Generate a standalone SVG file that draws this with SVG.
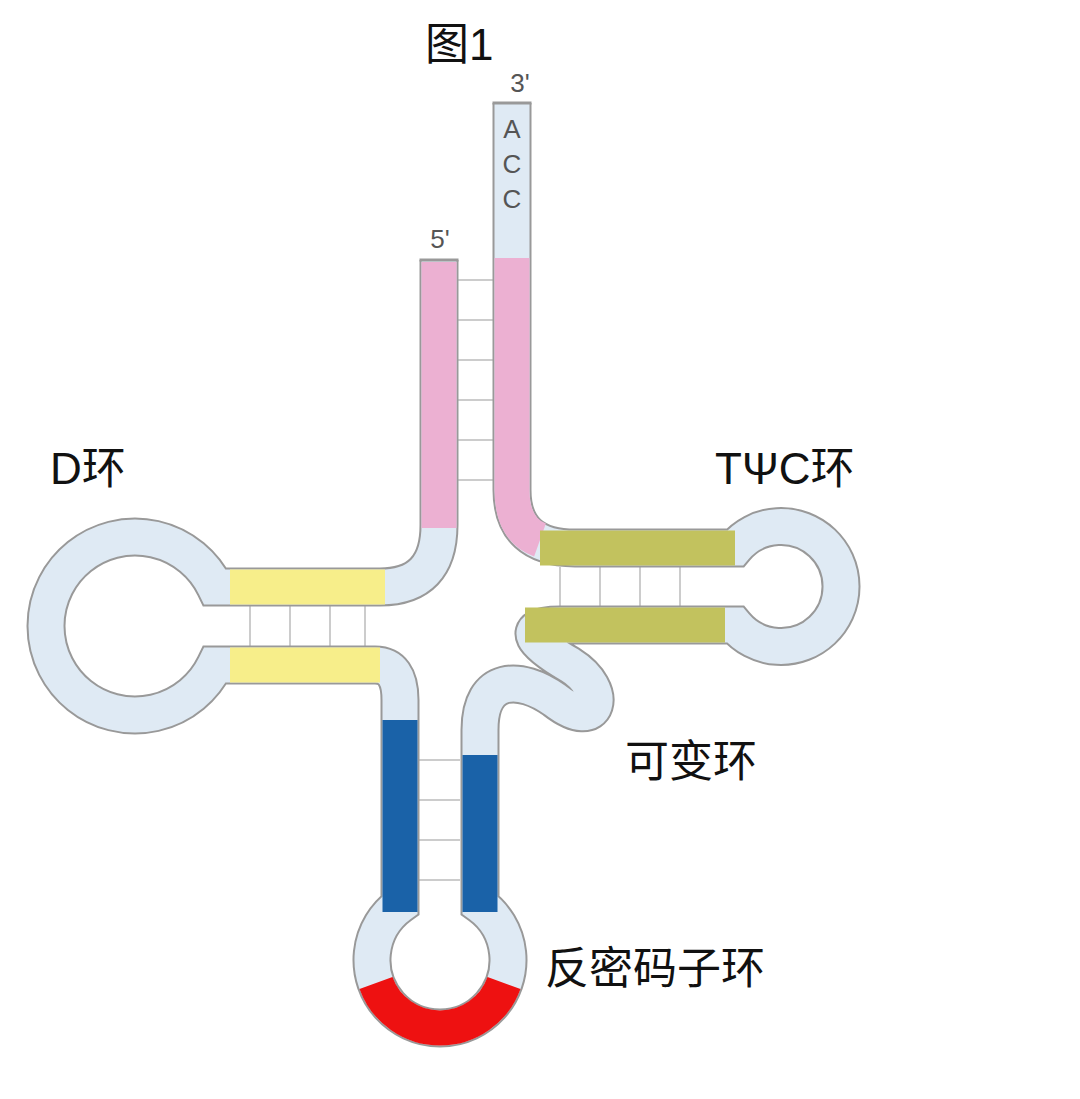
<svg xmlns="http://www.w3.org/2000/svg" width="1080" height="1099" viewBox="0 0 1080 1099">
<style>
.lab{font-family:"Liberation Sans","Noto Sans CJK SC",sans-serif;fill:#111;font-size:44px}
.sm{font-family:"Liberation Sans",sans-serif;fill:#555;font-size:26px;text-anchor:middle}
.seg{fill:none;stroke-width:35;stroke-linecap:butt}
.rung{stroke:#ccc;stroke-width:2}
</style>
<rect width="1080" height="1099" fill="#fff"/>
<defs>
<path id="bb" d="M439,260 L439,525 Q439,587 380,587 L215,587 A89,89 0 1 0 215,665 L375,665 Q400,665 400,700 L400,905 A68,68 0 1 0 480,905 L480,730 C480,675 520,675 555,700 C600,735 610,690 570,665 C535,645 515,625 560,625 L735,625 A60,60 0 1 0 735,548 L575,548 Q512,548 512,490 L512,103"/>
</defs>
<g id="rungs">
<line class="rung" x1="458" y1="280" x2="494" y2="280"/><line class="rung" x1="458" y1="320" x2="494" y2="320"/>
<line class="rung" x1="458" y1="360" x2="494" y2="360"/><line class="rung" x1="458" y1="400" x2="494" y2="400"/>
<line class="rung" x1="458" y1="440" x2="494" y2="440"/><line class="rung" x1="458" y1="480" x2="494" y2="480"/>
<line class="rung" x1="250" y1="605" x2="250" y2="647"/><line class="rung" x1="290" y1="605" x2="290" y2="647"/>
<line class="rung" x1="330" y1="605" x2="330" y2="647"/><line class="rung" x1="365" y1="605" x2="365" y2="647"/>
<line class="rung" x1="560" y1="567" x2="560" y2="607"/><line class="rung" x1="600" y1="567" x2="600" y2="607"/>
<line class="rung" x1="640" y1="567" x2="640" y2="607"/><line class="rung" x1="680" y1="567" x2="680" y2="607"/>
<line class="rung" x1="418" y1="760" x2="460" y2="760"/><line class="rung" x1="418" y1="800" x2="460" y2="800"/>
<line class="rung" x1="418" y1="840" x2="460" y2="840"/><line class="rung" x1="418" y1="880" x2="460" y2="880"/>
</g>
<g id="backbone">
<use href="#bb" fill="none" stroke="#999" stroke-width="39"/>
<use href="#bb" fill="none" stroke="#dfeaf4" stroke-width="35"/>
<line x1="419.5" y1="260" x2="458.5" y2="260" stroke="#999" stroke-width="3"/>
<line x1="492.5" y1="103" x2="531.5" y2="103" stroke="#999" stroke-width="3"/>
</g>
<g id="acceptor">
<path class="seg" stroke="#ecb0d2" d="M439,262 L439,528"/>
<path class="seg" stroke="#ecb0d2" d="M512,258 L512,490 Q512,530 540,540"/>
</g>
<g id="d-stem">
<path class="seg" stroke="#f7ee8a" d="M230,587 L385,587"/>
<path class="seg" stroke="#f7ee8a" d="M230,665 L380,665"/>
</g>
<g id="tpsic-stem">
<path class="seg" stroke="#c2c25e" d="M540,548 L735,548"/>
<path class="seg" stroke="#c2c25e" d="M525,625 L725,625"/>
</g>
<g id="anticodon-stem">
<path class="seg" stroke="#1a62a8" d="M400,720 L400,912"/>
<path class="seg" stroke="#1a62a8" d="M480,755 L480,912"/>
<path class="seg" stroke="#ee1111" stroke-width="37" d="M376,983 A68,68 0 0 0 504,983"/>
</g>
<g id="labels">
<text class="lab" x="425" y="60" font-size="40">图1</text>
<text class="sm" x="520" y="92">3'</text>
<text class="sm" x="440" y="248">5'</text>
<text class="sm" x="512" y="138" font-size="22">A</text>
<text class="sm" x="512" y="173" font-size="22">C</text>
<text class="sm" x="512" y="208" font-size="22">C</text>
<text class="lab" x="50" y="484">D环</text>
<text class="lab" x="715" y="484">TΨC环</text>
<text class="lab" x="625" y="777">可变环</text>
<text class="lab" x="545" y="984">反密码子环</text>
</g>
</svg>
